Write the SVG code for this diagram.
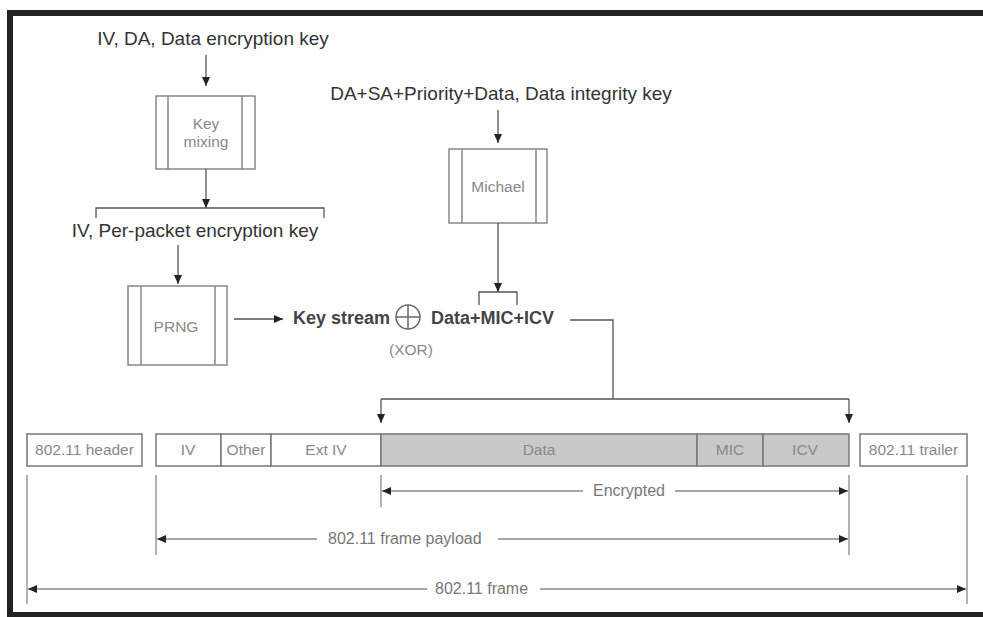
<svg xmlns="http://www.w3.org/2000/svg" width="983" height="617" viewBox="0 0 983 617">
<style>
.lbl{font-family:"Liberation Sans",Arial,sans-serif;font-size:19px;fill:#333}
.bld{font-family:"Liberation Sans",Arial,sans-serif;font-size:18px;font-weight:bold;fill:#444}
.box{font-family:"Liberation Sans",Arial,sans-serif;font-size:15.5px;fill:#888}
.dim{font-family:"Liberation Sans",Arial,sans-serif;font-size:16px;fill:#777}
.proc{fill:#fff;stroke:#888;stroke-width:1.5}
.inner{stroke:#888;stroke-width:1.5}
.ln{fill:none;stroke:#555;stroke-width:1.3}
.dl{fill:none;stroke:#888;stroke-width:1.3}
.cell{fill:#fff;stroke:#777;stroke-width:1.5}
.enc{fill:#c9c9c9;stroke:#777;stroke-width:1.5}
</style>
<defs>
<marker id="ah" markerWidth="10" markerHeight="10" refX="9" refY="5" orient="auto" markerUnits="userSpaceOnUse">
<path d="M0,1 L9,5 L0,9 Z" fill="#222"/>
</marker>
</defs>
<rect x="0" y="0" width="983" height="617" fill="#fff"/>
<rect x="10" y="13" width="990" height="602" fill="none" stroke="#222" stroke-width="6"/>

<g id="in-keymix"><text class="lbl" x="213" y="45" text-anchor="middle">IV, DA, Data encryption key</text></g>
<g id="keymix">
<rect class="proc" x="156" y="96" width="99" height="73"/>
<line class="inner" x1="168" y1="96" x2="168" y2="169"/>
<line class="inner" x1="242" y1="96" x2="242" y2="169"/>
<text class="box" x="206" y="129" text-anchor="middle" font-size="16">Key</text>
<text class="box" x="206" y="147" text-anchor="middle" font-size="16">mixing</text>
</g>
<g id="perpacket"><text class="lbl" x="195" y="237" text-anchor="middle">IV, Per-packet encryption key</text></g>
<g id="prng">
<rect class="proc" x="128" y="286" width="99" height="79"/>
<line class="inner" x1="141" y1="286" x2="141" y2="365"/>
<line class="inner" x1="215" y1="286" x2="215" y2="365"/>
<text class="box" x="176" y="332" text-anchor="middle" font-size="16">PRNG</text>
</g>
<g id="in-michael"><text class="lbl" x="501" y="100" text-anchor="middle">DA+SA+Priority+Data, Data integrity key</text></g>
<g id="michael">
<rect class="proc" x="449" y="149" width="98" height="74"/>
<line class="inner" x1="462" y1="149" x2="462" y2="223"/>
<line class="inner" x1="536" y1="149" x2="536" y2="223"/>
<text class="box" x="498" y="192" text-anchor="middle" font-size="16.5">Michael</text>
</g>
<g id="xor">
<text class="bld" x="293" y="324">Key stream</text>
<circle cx="408" cy="317" r="12" fill="none" stroke="#666" stroke-width="1.5"/>
<line x1="396" y1="317" x2="420" y2="317" stroke="#666" stroke-width="1.5"/>
<line x1="408" y1="305" x2="408" y2="329" stroke="#666" stroke-width="1.5"/>
<text class="box" x="411" y="355" text-anchor="middle">(XOR)</text>
<text class="bld" x="431" y="324">Data+MIC+ICV</text>
</g>

<g id="frame">
<g id="hdr"><rect class="cell" x="27" y="434" width="115" height="32"/><text class="box" x="84.5" y="455" text-anchor="middle" font-size="16">802.11 header</text></g>
<g id="iv"><rect class="cell" x="156" y="434" width="65" height="32"/><text class="box" x="188" y="455" text-anchor="middle">IV</text></g>
<g id="other"><rect class="cell" x="221" y="434" width="50" height="32"/><text class="box" x="246" y="455" text-anchor="middle">Other</text></g>
<g id="extiv"><rect class="cell" x="271" y="434" width="110" height="32"/><text class="box" x="326" y="455" text-anchor="middle">Ext IV</text></g>
<g id="data"><rect class="enc" x="381" y="434" width="316" height="32"/><text class="box" x="539" y="455" text-anchor="middle" fill="#777">Data</text></g>
<g id="mic"><rect class="enc" x="697" y="434" width="66" height="32"/><text class="box" x="730" y="455" text-anchor="middle" fill="#777">MIC</text></g>
<g id="icv"><rect class="enc" x="763" y="434" width="86" height="32"/><text class="box" x="805" y="455" text-anchor="middle" fill="#777">ICV</text></g>
<g id="trl"><rect class="cell" x="860" y="434" width="107" height="32"/><text class="box" x="913.5" y="455" text-anchor="middle">802.11 trailer</text></g>
</g>

<g id="connectors">
<line class="ln" x1="206" y1="55" x2="206" y2="86" marker-end="url(#ah)"/>
<line class="ln" x1="206" y1="169" x2="206" y2="208" marker-end="url(#ah)"/>
<polyline class="ln" points="96,218 96,208 324,208 324,218"/>
<line class="ln" x1="178" y1="245" x2="178" y2="284" marker-end="url(#ah)"/>
<line class="ln" x1="498" y1="110" x2="498" y2="143" marker-end="url(#ah)"/>
<line class="ln" x1="498" y1="223" x2="498" y2="292" marker-end="url(#ah)"/>
<polyline class="ln" points="479,305 479,292 517,292 517,305"/>
<line class="ln" x1="234" y1="319" x2="283" y2="319" marker-end="url(#ah)"/>
<polyline class="ln" points="570,320 613,320 613,399"/>
<line class="ln" x1="381" y1="399" x2="849" y2="399"/>
<line class="ln" x1="381" y1="399" x2="381" y2="423" marker-end="url(#ah)"/>
<line class="ln" x1="849" y1="399" x2="849" y2="423" marker-end="url(#ah)"/>

<line class="dl" x1="27" y1="475" x2="27" y2="604"/>
<line class="dl" x1="156" y1="475" x2="156" y2="555"/>
<line class="dl" x1="381" y1="475" x2="381" y2="507"/>
<line class="dl" x1="849" y1="475" x2="849" y2="555"/>
<line class="dl" x1="967" y1="475" x2="967" y2="604"/>

<line class="dl" x1="583" y1="491" x2="382" y2="491" marker-end="url(#ah)"/>
<line class="dl" x1="675" y1="491" x2="848" y2="491" marker-end="url(#ah)"/>
<text class="dim" x="629" y="496" text-anchor="middle">Encrypted</text>
<line class="dl" x1="317" y1="539" x2="157" y2="539" marker-end="url(#ah)"/>
<line class="dl" x1="498" y1="539" x2="848" y2="539" marker-end="url(#ah)"/>
<text class="dim" x="328" y="544">802.11 frame payload</text>
<line class="dl" x1="427" y1="589" x2="28" y2="589" marker-end="url(#ah)"/>
<line class="dl" x1="540" y1="589" x2="966" y2="589" marker-end="url(#ah)"/>
<text class="dim" x="435" y="594">802.11 frame</text>
</g>
</svg>
